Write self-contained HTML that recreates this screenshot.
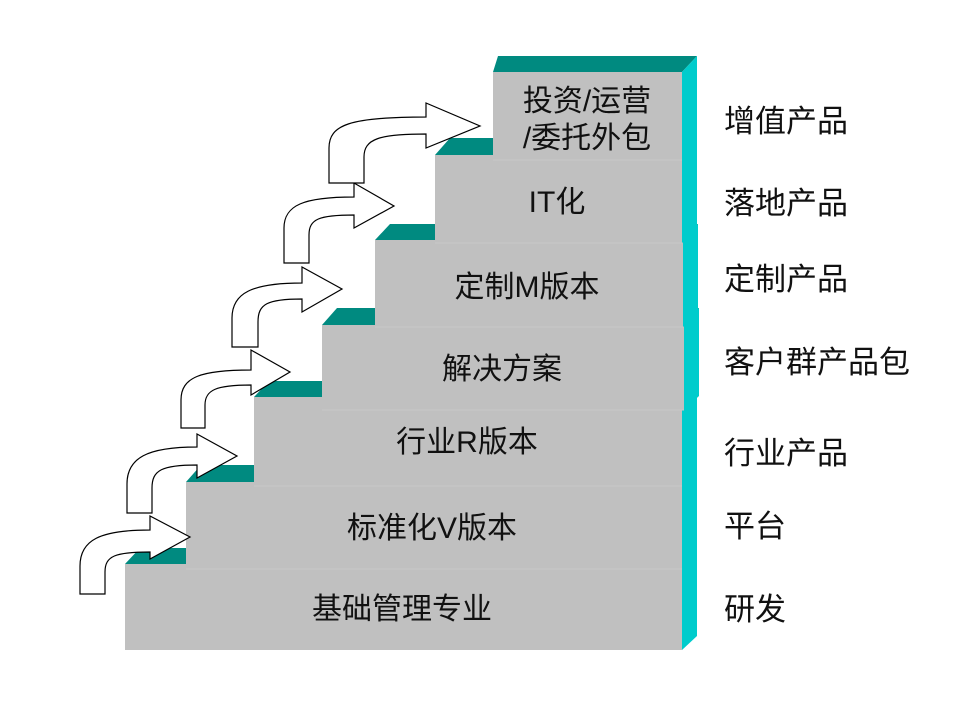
<!DOCTYPE html>
<html><head><meta charset="utf-8"><style>
html,body{margin:0;padding:0;background:#fff;}
svg text{font-family:"Liberation Sans","Noto Sans CJK SC",sans-serif;font-size:30px;fill:#111;}
svg .r text{font-size:31px;}
</style></head><body>
<svg width="960" height="720" viewBox="0 0 960 720" xmlns="http://www.w3.org/2000/svg">
<g id="steps">
<polygon points="125,564 140,548 697,548 682,564" fill="#008a80"/>
<polygon points="682,564 697,548 697,636 682,650" fill="#00cccc"/>
<rect x="125" y="564" width="557" height="86" fill="#c0c0c0"/>
<polygon points="186,482 201,465 697,465 682,482" fill="#008a80"/>
<polygon points="682,482 697,465 697,556 682,570" fill="#00cccc"/>
<rect x="186" y="482" width="496" height="87" fill="#c0c0c0"/>
<line x1="186" y1="569" x2="682" y2="569" stroke="#c8c8c8" stroke-width="1"/>
<polygon points="254,397 269,381 697,381 682,397" fill="#008a80"/>
<polygon points="682,397 697,381 697,472 682,486" fill="#00cccc"/>
<rect x="254" y="397" width="428" height="89" fill="#c0c0c0"/>
<line x1="254" y1="486" x2="682" y2="486" stroke="#c8c8c8" stroke-width="1"/>
<polygon points="322,325 337,308 699,308 684,325" fill="#008a80"/>
<polygon points="684,325 699,308 699,396 684,410" fill="#00cccc"/>
<rect x="322" y="325" width="362" height="85" fill="#c0c0c0"/>
<line x1="322" y1="410" x2="684" y2="410" stroke="#c8c8c8" stroke-width="1"/>
<polygon points="375,240 390,224 698,224 683,240" fill="#008a80"/>
<polygon points="683,240 698,224 698,313 683,327" fill="#00cccc"/>
<rect x="375" y="240" width="308" height="87" fill="#c0c0c0"/>
<line x1="375" y1="327" x2="683" y2="327" stroke="#c8c8c8" stroke-width="1"/>
<polygon points="435,155 450,138 697,138 682,155" fill="#008a80"/>
<polygon points="682,155 697,138 697,229 682,243" fill="#00cccc"/>
<rect x="435" y="155" width="247" height="88" fill="#c0c0c0"/>
<line x1="435" y1="243" x2="682" y2="243" stroke="#c8c8c8" stroke-width="1"/>
<polygon points="493,72 498,56 697,56 682,72" fill="#008a80"/>
<polygon points="682,72 697,56 697,146 682,160" fill="#00cccc"/>
<rect x="493" y="72" width="189" height="88" fill="#c0c0c0"/>
<line x1="493" y1="160" x2="682" y2="160" stroke="#c8c8c8" stroke-width="1"/>
</g>
<g fill="#fff" stroke="#000" stroke-width="1.2">
<path d="M80,594 L80,566 C80,540 100,530 150,530 L150,516 L190,537 L150,559 L150,552 C115,552 105,556 105,572 L105,594 Z"/>
<path d="M127,513 L127,484 C127,458 147,447 197,447 L197,434 L237,456 L197,478 L197,465 C162,465 152,470 152,488 L152,513 Z"/>
<path d="M181,428 L181,400 C181,377 201,370 251,370 L251,350 L290,372 L251,395 L251,385 C216,385 205,390 205,405 L205,428 Z"/>
<path d="M232,347 L232,318 C232,293 252,283 302,283 L302,267 L342,289 L302,312 L302,299 C267,299 258,304 258,322 L258,347 Z"/>
<path d="M284,263 L284,228 C284,205 304,197 354,197 L354,183 L394,206 L354,228 L354,215 C319,215 309,219 309,235 L309,263 Z"/>
<path d="M329,183 L329,148 C329,125 349,117 426,117 L426,103 L480,126 L426,148 L426,134 C379,134 364,139 364,157 L364,183 Z"/>
</g>
<g text-anchor="middle">
<text x="587" y="111">投资/运营</text>
<text x="587" y="148">/委托外包</text>
<text x="557" y="212">IT化</text>
<text x="527" y="297">定制M版本</text>
<text x="502" y="379">解决方案</text>
<text x="467" y="452">行业R版本</text>
<text x="432" y="538">标准化V版本</text>
<text x="402" y="619">基础管理专业</text>
</g>
<g class="r">
<text x="724" y="132">增值产品</text>
<text x="724" y="214">落地产品</text>
<text x="724" y="290">定制产品</text>
<text x="724" y="373">客户群产品包</text>
<text x="724" y="464">行业产品</text>
<text x="724" y="537">平台</text>
<text x="724" y="620">研发</text>
</g>
</svg>
</body></html>
